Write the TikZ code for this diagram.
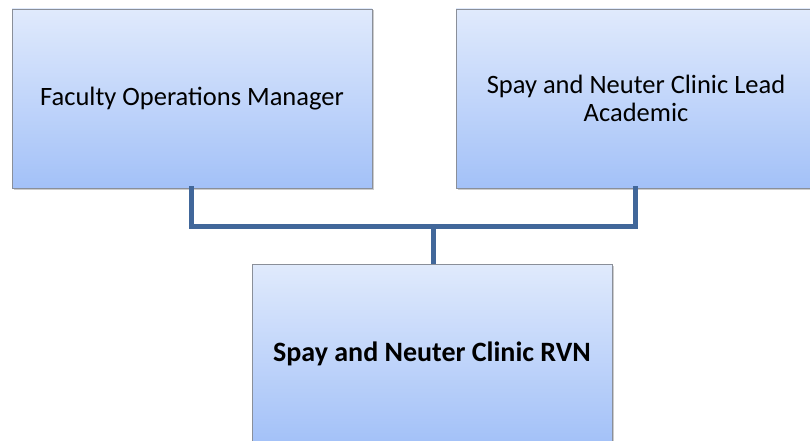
\documentclass[tikz,border=0pt]{standalone}
\usepackage{fontspec}
\setmainfont{Carlito}
\usetikzlibrary{shadows}
\definecolor{topc}{HTML}{E0EAFC}
\definecolor{botc}{HTML}{A3C1F8}
\definecolor{linec}{HTML}{41679A}
\definecolor{edgec}{HTML}{8A8F99}
\begin{document}
\begin{tikzpicture}[x=1pt,y=-1pt,
  box/.style={draw=edgec,line width=0.8pt,top color=topc,bottom color=botc,
    drop shadow={shadow xshift=1.5pt,shadow yshift=-1.5pt,opacity=0.4},
    align=center,font=\fontsize{26.5}{28.5}\selectfont,text=black},
  conn/.style={draw=linec,line width=5pt,line cap=rect}]
\clip (0,0) rectangle (810,441);
\useasboundingbox (0,0) rectangle (810,441);
\fill[white] (0,0) rectangle (810,441);
\node[box,minimum width=360pt,minimum height=179pt] (fom) at (192,98.5) {Faculty Operations Manager};
\node[box,minimum width=360pt,minimum height=179pt] (lead) at (636,98.5) {Spay and Neuter Clinic Lead\\Academic};
\node[box,minimum width=360pt,minimum height=179pt,font=\fontsize{28}{30}\selectfont\bfseries] (rvn) at (432,353.5) {Spay and Neuter Clinic RVN};
\coordinate (j) at (433,226);
\draw[conn] (191,188) |- (j) -| (635,188);
\draw[conn,line cap=butt] (j) -- (433,264);
\end{tikzpicture}
\end{document}
